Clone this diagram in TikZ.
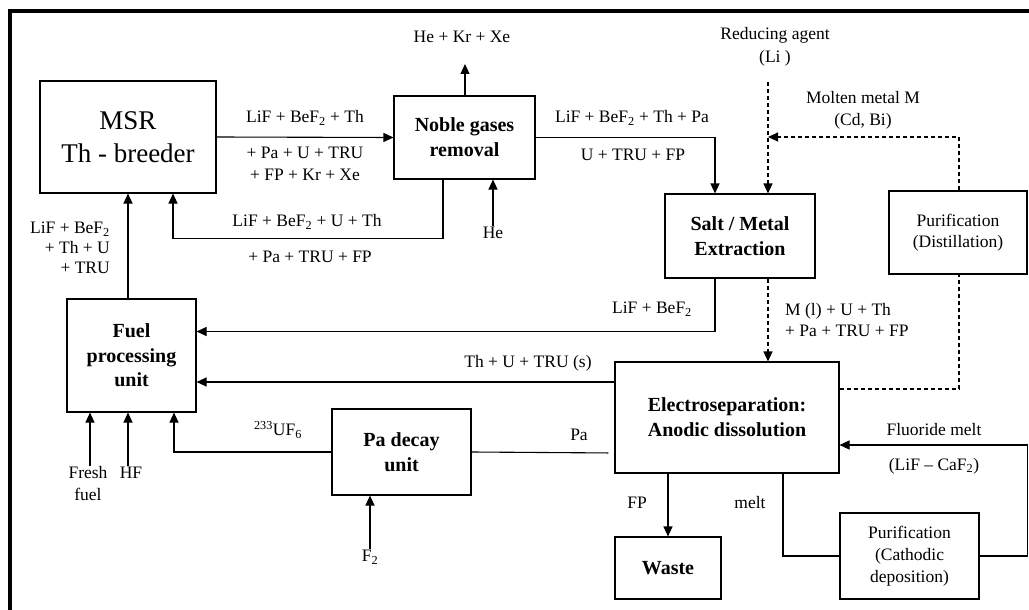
\documentclass[tikz,border=0pt]{standalone}
\usepackage{fontspec}
\setmainfont{Liberation Serif}
\usetikzlibrary{arrows.meta,positioning}
\newcommand\lblfnt{\fontsize{17.5}{21}\selectfont}
\newcommand\boxfnt{\fontsize{20}{25}\selectfont\bfseries}
\newcommand\bigfnt{\fontsize{27}{33}\selectfont}

\begin{document}
\begin{tikzpicture}[
  x=1pt,y=-1pt,
  blk/.style={draw,line width=1.1pt,align=center,font=\boxfnt,inner sep=2pt},
  lbl/.style={font=\lblfnt,align=center,inner sep=1pt},
  arr/.style={-{Triangle[length=10pt,width=9pt]},line width=1.1pt},
  darr/.style={arr,dash pattern=on 4pt off 3pt},
  ln/.style={line width=1.1pt},
  dln/.style={ln,dash pattern=on 4pt off 3pt}
]
\useasboundingbox (0,0) rectangle (1029,610);
\draw[line width=3.5pt] (10,614) -- (10,11) -- (1033,11);

% units
\node[blk,font=\bigfnt,minimum width=176pt,minimum height=112pt] (msr) at (128,137) {MSR\\Th - breeder};
\node[blk,minimum width=141pt,minimum height=83pt] (noble) at (464.5,137.5) {Noble gases\\removal};
\node[blk,minimum width=129pt,minimum height=113pt,font=\fontsize{20}{24.5}\selectfont\bfseries] (fuel) at (131.5,355.5) {Fuel\\processing\\unit};
\node[blk,minimum width=139pt,minimum height=86pt] (pa) at (401.5,452) {Pa decay\\unit};
\node[blk,minimum width=150pt,minimum height=84pt] (salt) at (740,236) {Salt / Metal\\Extraction};
\node[blk,font=\lblfnt,minimum width=138pt,minimum height=83pt] (distill) at (958,232.5) {Purification\\(Distillation)};
\node[blk,minimum width=224pt,minimum height=111pt] (electro) at (727,417.5) {Electroseparation:\\Anodic dissolution};
\node[blk,minimum width=106pt,minimum height=62pt] (waste) at (668,568) {Waste};
\node[blk,font=\fontsize{17.5}{22}\selectfont,minimum width=139pt,minimum height=86pt] (cathodic) at (909.5,556) {Purification\\(Cathodic\\deposition)};

% stream labels
\node[lbl] (l1) at (305,118) {LiF + BeF\textsubscript{2} + Th};
\node[lbl,font=\fontsize{17.5}{22}\selectfont] (l2) at (305,164) {+ Pa + U + TRU\\+ FP + Kr + Xe};
\node[lbl] (l3) at (307,222) {LiF + BeF\textsubscript{2} + U + Th};
\node[lbl] (l4) at (310,257) {+ Pa + TRU + FP};
\node[lbl,align=right,anchor=east,font=\fontsize{17.5}{20}\selectfont] (l5) at (111,248) {LiF + BeF\textsubscript{2}\\+ Th + U\\+ TRU};
\node[lbl] (heout) at (462,37) {He + Kr + Xe};
\node[lbl] (he) at (493,233) {He};
\node[lbl] (l6) at (632,118) {LiF + BeF\textsubscript{2} + Th + Pa};
\node[lbl] (l7) at (633,155) {U + TRU + FP};
\node[lbl,font=\fontsize{17.5}{23}\selectfont] (reduc) at (775,47) {Reducing agent\\(Li )};
\node[lbl,font=\fontsize{17.5}{22}\selectfont] (metal) at (863,110) {Molten metal M\\(Cd, Bi)};
\node[lbl] (l8) at (652,309) {LiF + BeF\textsubscript{2}};
\node[lbl,align=left,anchor=west] (l9) at (784,320) {M (l) + U + Th\\+ Pa + TRU + FP};
\node[lbl] (l10) at (528,363) {Th + U + TRU (s)};
\node[lbl] (l11) at (278,430) {\textsuperscript{233}UF\textsubscript{6}};
\node[lbl] (l12) at (579,435) {Pa};
\node[lbl] (fluo) at (934,430) {Fluoride melt};
\node[lbl] (l13) at (934,466) {(LiF – CaF\textsubscript{2})};
\node[lbl] (l14) at (637,503) {FP};
\node[lbl] (l15) at (750,503) {melt};
\node[lbl,font=\fontsize{17.5}{22}\selectfont] (fresh) at (88,484) {Fresh\\fuel};
\node[lbl] (hf) at (131,473) {HF};
\node[lbl] (f2) at (370,557) {F\textsubscript{2}};

\coordinate (hetip) at (465,64);
\coordinate (redtop) at (768,82);
\coordinate (metaljoin) at (768,137);

% streams
\draw[arr] (msr.east) -- (noble.west);
\draw[arr] (noble.north -| hetip) -- (hetip);
\draw[arr] (he.north) -- (he.north |- noble.south);
\draw[arr] ([xshift=-21.5pt]noble.south) -- ++(0,59) -| ([xshift=45pt]msr.south);
\draw[arr] (msr.south |- fuel.north) -- (msr.south);
\draw[arr] (noble.east) -| ([xshift=-25pt]salt.north);
\draw[darr] (redtop) -- (redtop |- salt.north);
\draw[darr] ([xshift=1pt]distill.north) |- (metaljoin);
\draw[arr] ([xshift=-25pt]salt.south) |- ([yshift=24pt]fuel.east);
\draw[darr] ([xshift=28pt]salt.south) -- ([xshift=28pt]salt.south |- electro.north);
\draw[dln] ([yshift=28.5pt]electro.east) -| ([xshift=1pt]distill.south);
\draw[arr] ([yshift=35.5pt]electro.west) -- ([yshift=-26.5pt]fuel.east);
\draw[ln,shorten <=6pt] ([yshift=-35.5pt]electro.west) -- (pa.east);
\draw[arr] (pa.west) -| ([xshift=42.5pt]fuel.south);
\draw[arr] ([xshift=2pt]fresh.north) -- ([xshift=2pt]fresh.north |- fuel.south);
\draw[arr] ([xshift=-3pt]hf.north) -- ([xshift=-3pt]hf.north |- fuel.south);
\draw[arr] (f2.north) -- (f2.north |- pa.south);
\draw[arr] (waste.north |- electro.south) -- (waste.north);
\draw[ln] ([xshift=56pt]electro.south) |- (cathodic.west);
\draw[arr] (cathodic.east) -- ++(48,0) |- ([yshift=-27.5pt]electro.east);
\end{tikzpicture}
\end{document}
